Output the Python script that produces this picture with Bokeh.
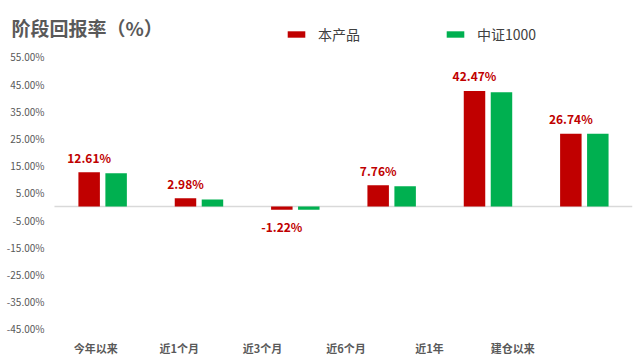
from bokeh.plotting import figure
from bokeh.models import (Range1d, LinearAxis, FixedTicker, PrintfTickFormatter,
                          Label, Legend, LegendItem, ColumnDataSource)
from bokeh.transform import dodge
from bokeh.core.properties import value
from bokeh.embed import file_html
from bokeh.resources import INLINE

# ---- data ----
categories = ["今年以来", "近1个月", "近3个月", "近6个月", "近1年", "建仓以来"]
product = [12.61, 2.98, -1.22, 7.76, 42.47, 26.74]
index1000 = [12.2, 2.6, -1.25, 7.4, 42.0, 26.7]
series_names = ["本产品", "中证1000"]
y_ticks = [-45, -35, -25, -15, -5, 5, 15, 25, 35, 45, 55]
title_text = "阶段回报率（%）"

RED = "#C00000"
GREEN = "#00B050"
GRAY = "#595959"
FONT = "Noto Sans CJK SC"

n = len(categories)
src = ColumnDataSource(dict(
    pos=[i + 0.5 for i in range(n)],   # category centres on the numeric x scale
    prod=product,
    idx=index1000,
    lab=["%.2f%%" % v for v in product],
    yoff=[-15 if v >= 0 else 17 for v in product],
))

H = 333  # expected frame height (figure height minus the bottom border)

p = figure(width=640, height=361, output_backend="svg", toolbar_location=None,
           x_range=Range1d(-0.446, n), y_range=Range1d(-46.7, 75.7),
           x_axis_location=None,
           min_border_left=11, min_border_right=8, min_border_top=0, min_border_bottom=28,
           background_fill_color="white", border_fill_color="white")
p.outline_line_color = None
p.xgrid.visible = False
p.ygrid.visible = False

# y axis (labels drawn into the empty left margin of the frame)
ya = p.yaxis[0]
ya.ticker = FixedTicker(ticks=y_ticks)
ya.formatter = PrintfTickFormatter(format="%.2f%%")
ya.axis_line_color = None
ya.major_tick_line_color = None
ya.minor_tick_line_color = None
ya.major_tick_out = 0
ya.major_tick_in = 0
ya.major_label_standoff = -33
ya.major_label_text_font = FONT
ya.major_label_text_font_size = "10px"
ya.major_label_text_color = GRAY

# category labels axis
p.extra_x_ranges = {"lab": Range1d(-1.011, 6.435)}
xa = LinearAxis(x_range_name="lab",
                ticker=FixedTicker(ticks=list(range(n))),
                major_label_overrides={i: c for i, c in enumerate(categories)})
xa.axis_line_color = None
xa.major_tick_line_color = None
xa.minor_tick_line_color = None
xa.major_tick_out = 0
xa.major_tick_in = 0
xa.major_label_standoff = 6
xa.major_label_text_font = FONT
xa.major_label_text_font_size = "11px"
xa.major_label_text_font_style = "bold"
xa.major_label_text_color = GRAY
p.add_layout(xa, "below")

# zero line across the category area
p.segment(x0=[0], y0=[0], x1=[n], y1=[0], line_color="#D9D9D9", line_width=1.5)

# bars
r1 = p.vbar(x=dodge("pos", -0.14), top="prod", width=0.223,
            source=src, fill_color=RED, line_color=None)
r2 = p.vbar(x=dodge("pos", 0.14), top="idx", width=0.223,
            source=src, fill_color=GREEN, line_color=None)

# value labels
p.text(x=dodge("pos", -0.14), y="prod", text="lab", y_offset="yoff",
       source=src, text_align="center", text_baseline="middle",
       text_font=value(FONT), text_font_size="12px", text_font_style="bold",
       text_color=RED)

# title
p.add_layout(Label(x=0, y=H - 27, x_units="screen", y_units="screen", text=title_text,
                   text_font=FONT, text_font_size="19px", text_font_style="bold",
                   text_color=GRAY, text_baseline="middle"))

# legend
legend = Legend(items=[LegendItem(label=series_names[0], renderers=[r1]),
                       LegendItem(label=series_names[1], renderers=[r2])],
                orientation="horizontal", location=(274, H - 44),
                glyph_width=22, glyph_height=8, label_standoff=11,
                label_width=100, spacing=26, padding=0, margin=0,
                border_line_alpha=0, background_fill_alpha=0,
                label_text_font=FONT, label_text_font_size="14px",
                label_text_color="#404040")
p.add_layout(legend, "center")

open("out.html", "w").write(file_html(p, INLINE))
